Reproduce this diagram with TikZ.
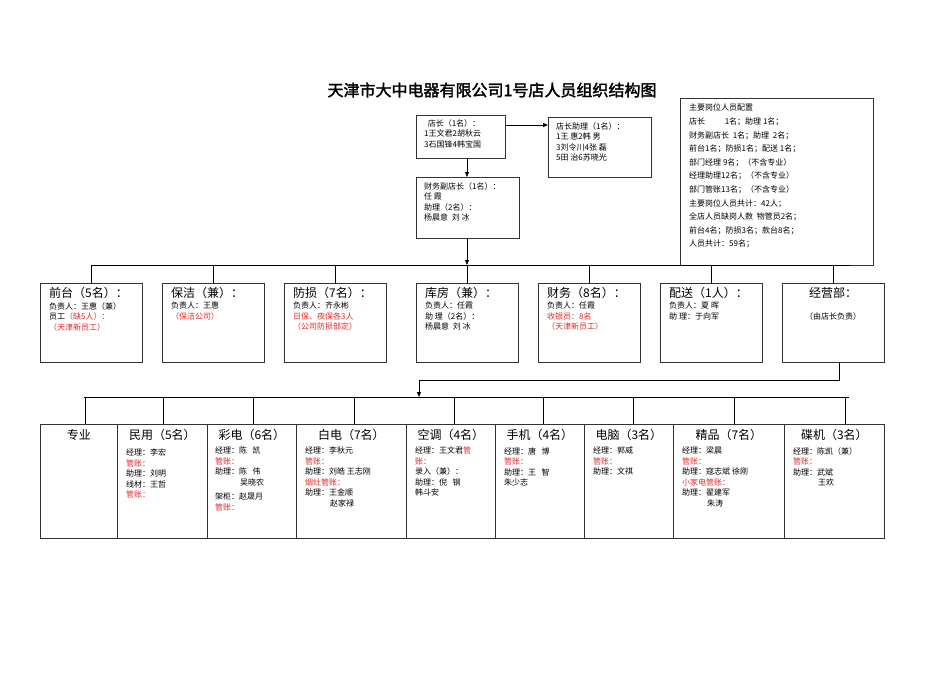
\documentclass[tikz,border=0pt]{standalone}
\usepackage{fontspec}
\setmainfont{Noto Sans CJK SC}
\newfontfamily\titlefont{Noto Sans CJK SC}[FakeBold=2]
\usetikzlibrary{arrows.meta}
\definecolor{rd}{RGB}{225,40,40}
\tikzset{
 box/.style={draw=black!80,line width=0.8pt,rectangle,anchor=north west,inner sep=0pt},
 txt/.style={anchor=north west,align=left,font=\fontsize{8}{10.5}\selectfont,inner sep=0pt},
 head/.style={anchor=north,font=\fontsize{12}{14}\selectfont,inner sep=0pt},
 ln/.style={line width=0.7pt},
 arr/.style={line width=0.8pt,-{Triangle[length=5pt,width=4pt]}}
}
\newcommand{\bx}[5]{\node[box,minimum width=#3pt,minimum height=#4pt] (#5) at (#1,#2) {};}
\begin{document}
\begin{tikzpicture}[x=1pt,y=-1pt]
\useasboundingbox (0,0) rectangle (950,672);
\node[font=\titlefont\fontsize{16}{18}\selectfont] (title) at (492,90) {天津市大中电器有限公司1号店人员组织结构图};
% top
\bx{416}{115}{89}{43}{dz}
\node[txt] (dzt) at (424,119) {\ \ 店长（1名）：\\1王文君2胡秋云\\3石国锋4韩宝国};
\bx{548}{117}{103}{60}{zl}
\node[txt] (zlt) at (556,122) {店长助理（1名）：\\1王\ 惠2韩\ 男\\3刘令川4张\ 磊\\5田\ 治6苏晓光};
\bx{416}{177}{103}{61}{cw}
\node[txt] (cwt) at (424,182) {财务副店长（1名）：\\任\ 霞\\助理（2名）：\\杨晨意\ \ 刘\ 冰};
\bx{680}{98}{193}{167}{pz}
\node[txt,font=\fontsize{8}{13.6}\selectfont] (pzt) at (689,104) {主要岗位人员配置\\店长\qquad\ \ 1名；助理\ 1名；\\财务副店长\ \ 1名；助理\ \ 2名；\\前台1名；防损1名；配送\ 1名；\\部门经理\ 9名；（不含专业）\\经理助理12名；（不含专业）\\部门管账13名；（不含专业）\\主要岗位人员共计：42人；\\全店人员缺岗人数\ \ 物管员2名；\\前台4名；防损3名；款台8名；\\人员共计：59名；};
\draw[arr] (dz.east |- 0,125) -- (zl.west |- 0,125);
\draw[arr] (467,158) -- (cw.north -| 467,0);
\coordinate (busa) at (467,265);
\draw[arr] (cw.south -| 467,0) -- (busa);
% middle row
\draw[ln] (92,265) -- (850,265);
\foreach \n/\x in {qt/40,bj/162,fs/284,kf/416,cwb/538,ps/660,jy/782}{
  \bx{\x}{283}{102}{79}{\n}
  \draw[ln] (\n.north) -- (\n.north |- busa);
}
\node[txt,font=\fontsize{12}{14}\selectfont] at (49,287) {前台（5名）：};
\node[txt] at (49,302) {负责人：王惠（兼）\\员工\textcolor{rd}{（缺5人）：}\\\textcolor{rd}{（天津新员工）}};
\node[txt,font=\fontsize{12}{14}\selectfont] at (171,287) {保洁（兼）：};
\node[txt] at (171,302) {负责人：王惠\\\textcolor{rd}{（保洁公司）}};
\node[txt,font=\fontsize{12}{14}\selectfont] at (293,287) {防损（7名）：};
\node[txt] at (293,302) {负责人：齐永彬\\\textcolor{rd}{日保、夜保各3人}\\\textcolor{rd}{（公司防损部定）}};
\node[txt,font=\fontsize{12}{14}\selectfont] at (425,287) {库房（兼）：};
\node[txt] at (425,302) {负责人：任霞\\助\ 理（2名）：\\杨晨意\ \ 刘\ 冰};
\node[txt,font=\fontsize{12}{14}\selectfont] at (547,287) {财务（8名）：};
\node[txt] at (547,302) {负责人：任霞\\\textcolor{rd}{收银员：8名}\\\textcolor{rd}{（天津新员工）}};
\node[txt,font=\fontsize{12}{14}\selectfont] at (669,287) {配送（1人）：};
\node[txt] at (669,302) {负责人：夏\ 晖\\助\ 理：于向军};
\node[head] at (833,287) {经营部：};
\node[txt,anchor=north] at (833,312) {（由店长负责）};
% link to bottom
\coordinate (bend) at (839,380);
\coordinate (busb) at (419,397);
\draw[ln] (839,362) -- (bend) -- (419,380);
\draw[arr] (419,380) -- (busb);
\draw[ln] (84,397) -- (849,397);
% bottom row
\foreach \n/\x/\w/\d in {zy/40/77/85,my/117/90/163,cd/207/89/253,bd/296/110/354,kt/406/89/454,sj/495/89/543,dn/584/89/633,jp/673/111/734,dj/784/100/845}{
  \bx{\x}{424}{\w}{114}{\n}
  \draw[ln] (\d,424) -- (\d,397);
}
\foreach \n/\t in {zy/专业,my/民用（5名）,cd/彩电（6名）,bd/白电（7名）,kt/空调（4名）,sj/手机（4名）,dn/电脑（3名）,jp/精品（7名）,dj/碟机（3名）}{
  \node[head] at ([yshift=-5pt]\n.north) {\t};
}
\node[txt] at (126,449) {经理：李宏\\\textcolor{rd}{管账：}\\助理：刘明\\线材：王哲\\\textcolor{rd}{管账：}};
\node[txt] at (215,447) {经理：陈\ \ \ 凯\\\textcolor{rd}{管账：}\\助理：陈\ \ \ 伟\\\hspace*{3.1em}吴晓农\\[4pt]架柜：赵晟月\\\textcolor{rd}{管账：}};
\node[txt] at (305,447) {经理：李秋元\\\textcolor{rd}{管账：}\\助理：刘皓\ 王志刚\\\textcolor{rd}{烟灶管账：}\\助理：王金顺\\\hspace*{3.1em}赵家禄};
\node[txt] at (415,447) {经理：王文君\textcolor{rd}{管}\\\textcolor{rd}{账：}\\录入（兼）：\\助理：倪\ \ \ 钢\\韩斗安};
\node[txt] at (504,447) {经理：唐\ \ \ 博\\\textcolor{rd}{管账：}\\助理：王\ \ \ 智\\朱少志};
\node[txt] at (593,447) {经理：郭威\\\textcolor{rd}{管账：}\\助理：文祺};
\node[txt] at (682,447) {经理：梁晨\\\textcolor{rd}{管账：}\\助理：寇志斌\ 徐刚\\\textcolor{rd}{小家电管账：}\\助理：翟建军\\\hspace*{3.1em}朱涛};
\node[txt] at (793,447) {经理：陈凯（兼）\\\textcolor{rd}{管账：}\\助理：武斌\\\hspace*{3.1em}王欢};
\end{tikzpicture}
\end{document}
